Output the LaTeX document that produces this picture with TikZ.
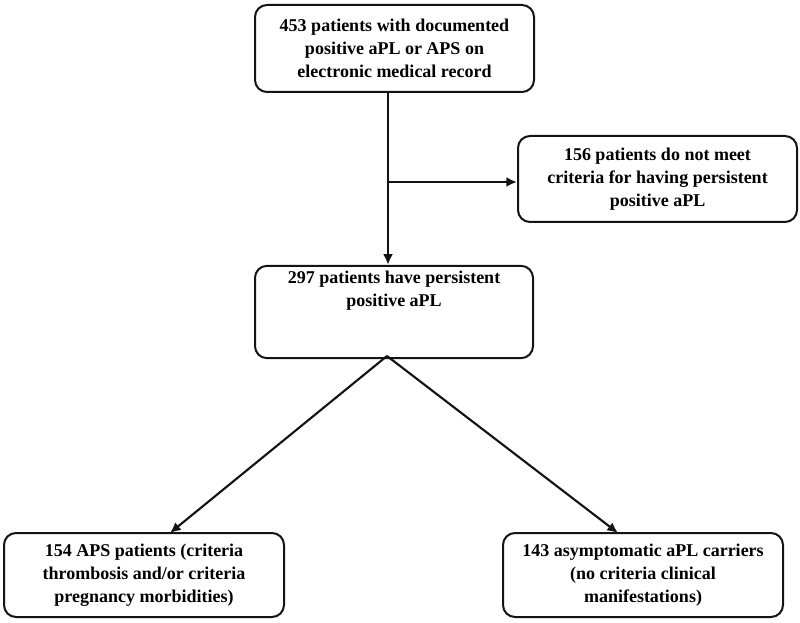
\documentclass[tikz,border=0pt]{standalone}
\usepackage{fontspec}
\setmainfont{Liberation Serif}
\usetikzlibrary{arrows.meta, positioning}
\definecolor{FlowBlack}{RGB}{20, 20, 20}

\tikzset{
    flowbox/.style={draw=FlowBlack, line width=1.5pt, rounded corners=9pt, fill=white,
        align=center, inner sep=4pt, font=\fontsize{13.5}{17.3}\selectfont\bfseries},
    flowarrow/.style={draw=FlowBlack, line width=1.6pt, -{Latex[length=8pt, width=7.5pt]}}
}

\begin{document}
\begin{tikzpicture}[x=0.75pt, y=-0.75pt]
        \useasboundingbox (0,0) rectangle (800,623);
        % boxes
        \node[flowbox, minimum width=279*0.75pt, minimum height=87*0.75pt] (records) at (394.5,48.5)
            {453 patients with documented\\positive aPL or APS on\\electronic medical record};
        \node[flowbox, minimum width=279*0.75pt, minimum height=86*0.75pt] (excluded) at (657.5,179)
            {156 patients do not meet\\criteria for having persistent\\positive aPL};
        \node[flowbox, minimum width=278*0.75pt, minimum height=88*0.75pt] (persistent) at (394,312)
            {297 patients have persistent\\positive aPL\\[17.3pt]};
        \node[flowbox, minimum width=280*0.75pt, minimum height=84*0.75pt] (aps) at (144,575)
            {154 APS patients (criteria\\thrombosis and/or criteria\\pregnancy morbidities)};
        \node[flowbox, minimum width=280*0.75pt, minimum height=84*0.75pt] (carriers) at (643,575)
            {143 asymptomatic aPL carriers\\(no criteria clinical\\manifestations)};
        % connectors
        \coordinate (split) at (388,182);
        \coordinate (apex) at (387,356);
        \coordinate (apsin) at (170,533);
        \coordinate (carriersin) at (618,533);
        \draw[flowarrow] (records.south -| split) -- (persistent.north -| split);
        \draw[flowarrow] (split) -- (excluded.west |- split);
        \draw[flowarrow] (apex) -- (apsin);
        \draw[flowarrow] (apex) -- (carriersin);
    \end{tikzpicture}
\end{document}
